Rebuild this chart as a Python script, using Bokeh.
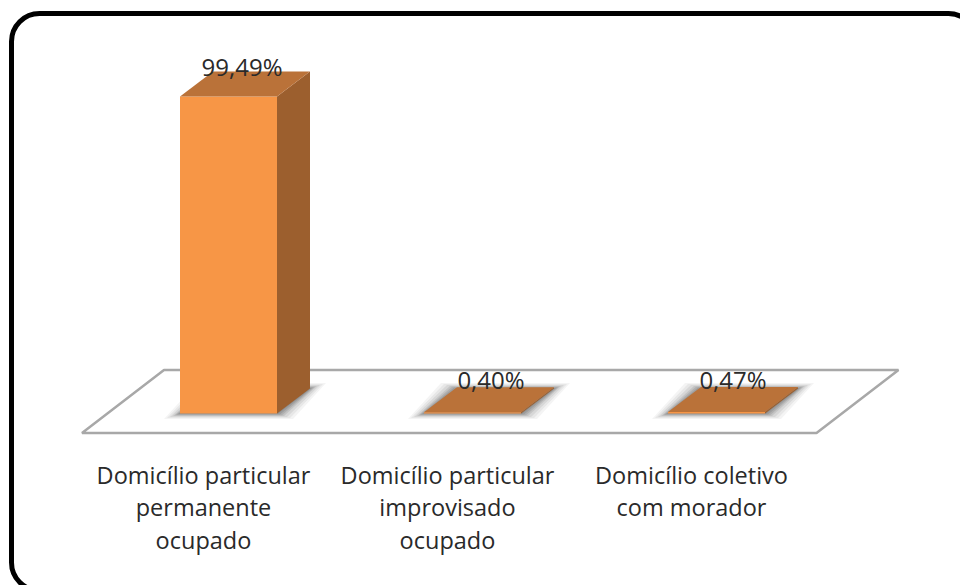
from bokeh.plotting import figure, ColumnDataSource
from bokeh.embed import file_html
from bokeh.resources import INLINE
from bokeh.core.properties import value

categories = ["Domicílio particular\npermanente\nocupado",
              "Domicílio particular\nimprovisado\nocupado",
              "Domicílio coletivo\ncom morador"]
values = [99.49, 0.40, 0.47]
labels = ["99,49%", "0,40%", "0,47%"]

W, H = 960, 585
PX_X = 244.0      # pixels per category
PX_Y = 3.186      # pixels per percent
X0 = 228.0        # pixel of category 0 centre
Y0 = 413.0        # pixel of value 0 from the top
BAR = 97 / PX_X
DX = 33 / PX_X
DY = 25 / PX_Y

p = figure(width=W, height=H, output_backend="svg", toolbar_location=None,
           x_range=(-X0 / PX_X, (W - X0) / PX_X),
           y_range=(-(H - Y0) / PX_Y, Y0 / PX_Y),
           min_border=0, outline_line_color=None, background_fill_color="white",
           border_fill_color="white")
p.axis.visible = False
p.grid.visible = False


def ux(px):
    return px / PX_X


def uy(px):
    return px / PX_Y


# outer rounded frame (its right and bottom run past the picture)
p.quad(left=ux(11 - X0), right=ux(976 - X0),
       top=uy(Y0 - 13), bottom=uy(Y0 - 590),
       fill_color="white", line_color="black", line_width=5, border_radius=28)

# floor
fx = [ux(81.5 - X0), ux(163.5 - X0), ux(898 - X0), ux(816 - X0)]
fy = [uy(Y0 - 432.5), uy(Y0 - 369.5), uy(Y0 - 369.5), uy(Y0 - 432.5)]
p.patch(fx, fy, fill_color="white", line_color="#a8a8a8", line_width=2.5)

half = BAR / 2
for i, v in enumerate(values):
    # soft shadow round the footprint
    for grow, a in [(16, 0.07), (13, 0.09), (10, 0.12), (7, 0.16), (5, 0.2), (3, 0.25), (1, 0.3)]:
        gx, gy = ux(grow), uy(grow * 0.35)
        p.patch([i - half - gx, i - half + DX - gx, i + half + DX + gx, i + half + gx],
                [-gy, DY + gy, DY + gy, -gy],
                fill_color="#666666", fill_alpha=a, line_color=None)

    # front, side, top
    p.patch([i - half, i + half, i + half, i - half], [0, 0, v, v],
            fill_color="#F79646", line_color=None)
    p.patch([i + half, i + half + DX, i + half + DX, i + half], [0, DY, DY + v, v],
            fill_color="#9C5F2E", line_color=None)
    p.patch([i - half, i + half, i + half + DX, i - half + DX], [v, v, v + DY, v + DY],
            fill_color="#BA7239", line_color=None)

src = ColumnDataSource(dict(
    x=list(range(len(values))), y=values, t=labels,
    xo=[13.5, 18.5, 16.5], yo=[-30, -33, -33]))
p.text(x="x", y="y", text="t", source=src, x_offset="xo", y_offset="yo",
       text_font=value("Open Sans"), text_font_size="24px", text_color="#2a2a2a",
       text_align="center", text_baseline="alphabetic")

cat = ColumnDataSource(dict(x=list(range(len(categories))), t=categories))
p.text(x="x", y=uy(-45), text="t", source=cat, x_offset=-25,
       text_font=value("Open Sans"), text_font_size="23.5px", text_color="#2a2a2a",
       text_align="center", text_baseline="top", text_line_height=1.02)

open("out.html", "w").write(file_html(p, INLINE))
